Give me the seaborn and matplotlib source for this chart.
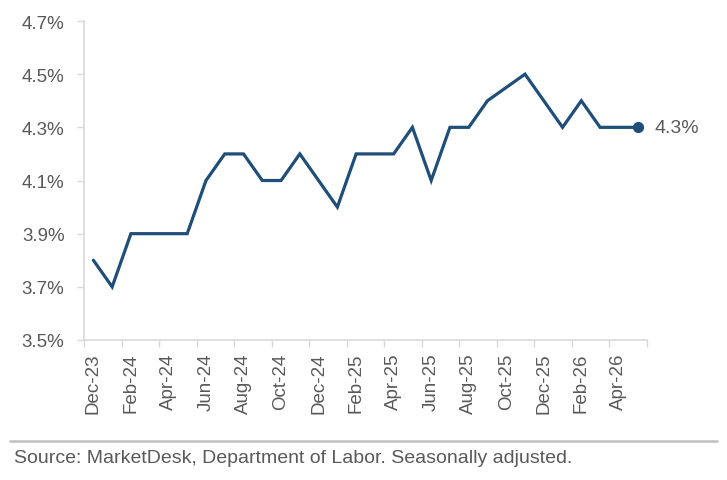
import matplotlib
matplotlib.use("Agg")
import matplotlib.pyplot as plt
import seaborn as sns
import pandas as pd
import numpy as np
from matplotlib.ticker import FixedLocator

months = ["Dec-23", "Jan-24", "Feb-24", "Mar-24", "Apr-24", "May-24", "Jun-24", "Jul-24",
          "Aug-24", "Sep-24", "Oct-24", "Nov-24", "Dec-24", "Jan-25", "Feb-25", "Mar-25",
          "Apr-25", "May-25", "Jun-25", "Jul-25", "Aug-25", "Sep-25", "Oct-25", "Nov-25",
          "Dec-25", "Jan-26", "Feb-26", "Mar-26", "Apr-26", "May-26"]
unemployment = [3.8, 3.7, 3.9, 3.9, 3.9, 3.9, 4.1, 4.2,
                4.2, 4.1, 4.1, 4.2, 4.1, 4.0, 4.2, 4.2,
                4.2, 4.3, 4.1, 4.3, 4.3, 4.4, None, 4.5,
                4.4, 4.3, 4.4, 4.3, 4.3, 4.3]
y_ticks = [3.5, 3.7, 3.9, 4.1, 4.3, 4.5, 4.7]
source_text = "Source: MarketDesk, Department of Labor. Seasonally adjusted."

sns.set_theme(style="white")
plt.rcParams['font.family'] = ['Liberation Sans', 'DejaVu Sans']

df = pd.DataFrame({"idx": np.arange(len(months)), "month": months,
                   "rate": pd.to_numeric(pd.Series(unemployment), errors="coerce")})
plot_df = df.dropna()

line_color = "#1F4E79"
text_color = "#595959"
spine_color = "#D9D9D9"

fig = plt.figure(figsize=(7.27, 4.81), dpi=100)
ax = fig.add_axes([84/727, 1-341/481, (647-84)/727, (341-22)/481])

sns.lineplot(data=plot_df, x="idx", y="rate", ax=ax, color=line_color, linewidth=2.3,
             solid_joinstyle="miter")
last = plot_df.iloc[-1]
ax.scatter([last["idx"]], [last["rate"]], s=65, color=line_color, zorder=5, linewidths=0)
ax.annotate(f"{last['rate']:.1f}%", xy=(last["idx"], last["rate"]), xytext=(12, 0),
            textcoords="offset points", va="center", ha="left", fontsize=14,
            color=text_color, annotation_clip=False)

ax.set_xlim(-0.5, len(months) - 0.5)
ax.set_ylim(y_ticks[0], y_ticks[-1])
ax.set_yticks(y_ticks)
ax.set_yticklabels([f"{v:.1f}%" for v in y_ticks])
label_pos = list(range(0, len(months), 2))
ax.xaxis.set_major_locator(FixedLocator(label_pos))
ax.set_xticklabels([months[i] for i in label_pos], rotation=90)
ax.xaxis.set_minor_locator(FixedLocator([i - 0.5 for i in range(0, len(months) + 1, 2)]))
ax.tick_params(axis="x", which="major", length=0, pad=9, labelsize=13.5, labelcolor=text_color)
ax.tick_params(axis="x", which="minor", length=5, width=1, color=spine_color, bottom=True)
ax.tick_params(axis="y", length=5, width=1, color=spine_color, left=True, labelsize=13.5,
               labelcolor=text_color, pad=9)
ax.set_xlabel("")
ax.set_ylabel("")
for s in ["top", "right"]:
    ax.spines[s].set_visible(False)
for s in ["left", "bottom"]:
    ax.spines[s].set_color(spine_color)
    ax.spines[s].set_linewidth(1.2)
ax.grid(False)

fig.add_artist(plt.Line2D([10/727, 717/727], [1-442/481, 1-442/481], color="#BFBFBF",
                          linewidth=1.8, transform=fig.transFigure))
fig.text(14/727, 1-459/481, source_text, fontsize=14, color=text_color, va="center", ha="left")

fig.savefig("out.png", dpi=100, facecolor="white")
